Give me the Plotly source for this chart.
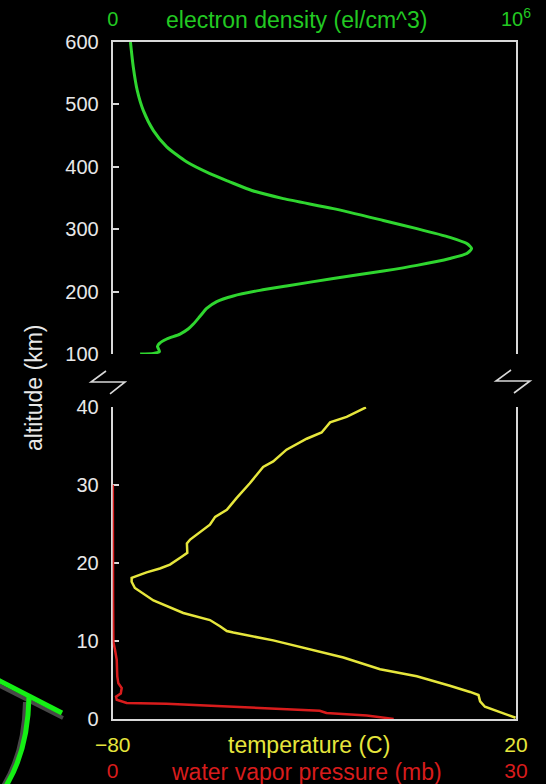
import plotly.graph_objects as go

# ---- data -------------------------------------------------------------
# ionosphere: electron density profile (altitude km, el/cm^3)
ne_alt = [100, 101, 104, 112, 117, 124, 132, 140, 148, 160, 173, 184, 193, 202,
          209, 221, 233, 242, 253, 261, 269, 277, 287, 301, 314, 333, 349, 362,
          376, 389, 408, 432, 458, 490, 522, 560, 600]
ne_val = [0.068e6, 0.101e6, 0.116e6, 0.111e6, 0.116e6, 0.134e6, 0.167e6, 0.187e6,
          0.200e6, 0.216e6, 0.233e6, 0.258e6, 0.299e6, 0.365e6, 0.431e6, 0.547e6,
          0.671e6, 0.754e6, 0.836e6, 0.878e6, 0.890e6, 0.878e6, 0.836e6, 0.754e6,
          0.671e6, 0.547e6, 0.423e6, 0.345e6, 0.290e6, 0.241e6, 0.183e6, 0.134e6,
          0.101e6, 0.076e6, 0.061e6, 0.051e6, 0.044e6]

# lower atmosphere: temperature profile (altitude km, deg C)
t_alt = [0.2, 1.0, 1.6, 2.3, 3.1, 3.5, 4.3, 5.5, 6.4, 7.9, 9.0, 10.1, 11.1, 11.3,
         11.9, 12.7, 13.6, 15.2, 16.8, 17.6, 18.1, 18.8, 19.3, 19.8, 20.8, 21.3,
         22.5, 23.0, 24.9, 25.9, 26.8, 28.3, 30.2, 31.7, 32.3, 33.0, 34.5, 35.9,
         36.7, 37.5, 38.0, 38.7, 39.9]
t_val = [19.9, 15.6, 12.3, 11.1, 10.7, 8.6, 3.6, -4.6, -13.7, -22.8, -31.9, -40.2,
         -50.1, -51.7, -53.4, -55.9, -62.5, -69.9, -74.5, -75.3, -75.3, -71.6,
         -68.3, -65.8, -62.9, -61.5, -61.6, -60.8, -55.9, -54.6, -51.7, -49.3,
         -46.0, -43.5, -42.7, -40.2, -36.9, -31.9, -28.2, -26.9, -26.1, -22.0, -17.2]

# water vapor pressure profile (altitude km, mb)
w_alt = [0.05, 0.5, 0.8, 1.1, 1.6, 2.0, 2.1, 2.5, 2.9, 3.3, 4.0, 4.6, 5.5, 6.5,
         7.6, 8.9, 9.9, 15, 20, 25, 30]
w_val = [20.9, 18.9, 15.9, 15.4, 9.0, 4.0, 1.04, 0.30, 0.25, 0.60, 0.67, 0.42,
         0.34, 0.30, 0.30, 0.17, 0.05, 0.03, 0.02, 0.01, 0.01]

# axis ranges and tick labels
ne_range = [0, 1e6]
t_range = [-80, 20]
w_range = [0, 30]
upper_alt_ticks = [100, 200, 300, 400, 500, 600]
lower_alt_ticks = [0, 10, 20, 30, 40]

# ---- styling ----------------------------------------------------------
W, H = 546, 784
FONT = "Liberation Sans, Arial, Helvetica, sans-serif"
GREEN = "#2fd62f"
GREEN_TXT = "#22c922"
YELLOW = "#e6e63c"
RED = "#d81c1c"
FRAME = "#d8d8d8"
LABEL = "#e8e8e8"


def px(x, y):
    """pixel position -> paper fraction"""
    return x / W, 1 - y / H


x_dom = [112.7 / W, 516 / W]
top_dom = [1 - 354 / H, 1 - 42 / H]
bot_dom = [1 - 719.3 / H, 1 - 406.7 / H]

fig = go.Figure()

fig.add_trace(go.Scatter(x=ne_val, y=ne_alt, xaxis="x3", yaxis="y2", mode="lines",
                         line=dict(color=GREEN, width=3, shape="spline", smoothing=0.6),
                         hoverinfo="skip"))
fig.add_trace(go.Scatter(x=w_val, y=w_alt, xaxis="x2", yaxis="y", mode="lines",
                         line=dict(color=RED, width=2.5), hoverinfo="skip"))
fig.add_trace(go.Scatter(x=t_val, y=t_alt, xaxis="x", yaxis="y", mode="lines",
                         line=dict(color=YELLOW, width=2.5), hoverinfo="skip"))

yaxis_common = dict(showgrid=False, zeroline=False, showline=True, mirror=True,
                    linecolor=FRAME, linewidth=2, ticks="inside", ticklen=6,
                    tickwidth=2, tickcolor=FRAME, ticklabelstandoff=8,
                    automargin=False,
                    tickfont=dict(family=FONT, size=20, color=LABEL),
                    layer="below traces")

fig.update_layout(
    width=W, height=H, autosize=False,
    margin=dict(l=0, r=0, t=0, b=0, pad=0, autoexpand=False),
    paper_bgcolor="black", plot_bgcolor="black",
    showlegend=False,
    xaxis=dict(domain=x_dom, anchor="y", range=t_range, side="bottom",
               showgrid=False, zeroline=False, showline=True, mirror=False,
               linecolor=FRAME, linewidth=2, ticks="", automargin=False,
               tickvals=t_range, ticktext=["\u221280", "20"], ticklabelstandoff=5,
               tickfont=dict(family=FONT, size=21, color=YELLOW)),
    xaxis2=dict(domain=x_dom, anchor="y", overlaying="x", range=w_range, side="bottom",
                showgrid=False, zeroline=False, showline=False, ticks="", automargin=False,
                tickvals=w_range, ticktext=["0", "30"], ticklabelstandoff=37,
                tickfont=dict(family=FONT, size=21, color=RED)),
    xaxis3=dict(domain=x_dom, anchor="y2", range=ne_range, side="top",
                showgrid=False, zeroline=False, showline=True, mirror=False,
                linecolor=FRAME, linewidth=2, ticks="", automargin=False,
                tickvals=ne_range, ticktext=["0", "10<sup>6</sup>"], ticklabelstandoff=6,
                tickfont=dict(family=FONT, size=20, color=GREEN_TXT)),
    yaxis=dict(domain=bot_dom, anchor="x", range=[0, 40], tickvals=lower_alt_ticks,
               **yaxis_common),
    yaxis2=dict(domain=top_dom, anchor="x3", range=[100, 600], tickvals=upper_alt_ticks,
                **yaxis_common),
)

# axis titles
titles = [
    ("electron density (el/cm^3)", 296, 20, GREEN_TXT, 0),
    ("temperature (C)", 309, 745, YELLOW, 0),
    ("water vapor pressure (mb)", 306, 772, RED, 0),
    ("altitude (km)", 34, 388, LABEL, -90),
]
for text, tx, ty, col, ang in titles:
    ax, ay = px(tx, ty)
    fig.add_annotation(text=text, x=ax, y=ay, xref="paper", yref="paper",
                       xanchor="center", yanchor="middle", showarrow=False,
                       textangle=ang, font=dict(family=FONT, size=23, color=col))


def path(points):
    parts = []
    for i, (x, y) in enumerate(points):
        fx, fy = px(x, y)
        parts.append(("M" if i == 0 else "L") + f"{fx:.5f},{fy:.5f}")
    return " ".join(parts)


# axis-break marks between the two altitude ranges
for pts in ([(106, 371), (91, 382), (125, 382), (110, 394)],
            [(511, 370), (496, 381), (530, 381), (514, 393)]):
    fig.add_shape(type="path", path=path(pts), xref="paper", yref="paper",
                  line=dict(color=FRAME, width=1.6))


def qpath(p0, c, p1):
    a, b, d = px(*p0), px(*c), px(*p1)
    return f"M{a[0]:.5f},{a[1]:.5f} Q{b[0]:.5f},{b[1]:.5f} {d[0]:.5f},{d[1]:.5f}"


# small antenna sketch in the lower-left corner (shadow first, then green)
fig.add_shape(type="line", xref="paper", yref="paper",
              x0=px(-2, 685)[0], y0=px(-2, 685)[1], x1=px(63, 718)[0], y1=px(63, 718)[1],
              line=dict(color="#484848", width=4))
fig.add_shape(type="path", xref="paper", yref="paper",
              path=qpath((25, 702), (24, 752), (3, 786)),
              line=dict(color="#484848", width=4))
fig.add_shape(type="line", xref="paper", yref="paper",
              x0=px(-2, 680)[0], y0=px(-2, 680)[1], x1=px(62, 713)[0], y1=px(62, 713)[1],
              line=dict(color="#14f014", width=5))
fig.add_shape(type="path", xref="paper", yref="paper",
              path=qpath((29, 697), (28, 750), (6, 786)),
              line=dict(color="#14f014", width=5))

fig.write_html("out.html")
